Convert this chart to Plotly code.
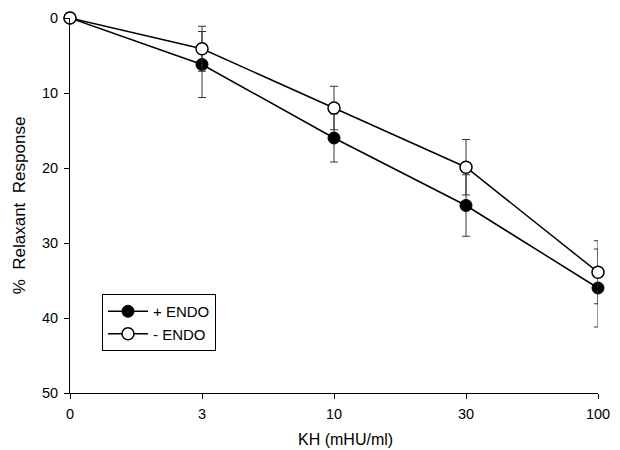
import plotly.graph_objects as go

doses = ["0", "3", "10", "30", "100"]
endo_plus = [0, 6.2, 16.0, 25.0, 36.0]
endo_plus_err = [0, 4.4, 3.2, 4.1, 5.2]
endo_minus = [0, 4.1, 12.0, 19.9, 33.9]
endo_minus_err = [0, 3.0, 2.9, 3.7, 4.2]
y_ticks = [0, 10, 20, 30, 40, 50]

xpos = list(range(len(doses)))

fig = go.Figure()
fig.add_trace(go.Scatter(
    x=xpos, y=endo_plus, name="+ ENDO", mode="lines+markers",
    line=dict(color="black", width=1.5),
    marker=dict(symbol="circle", size=12, color="black", line=dict(color="black", width=1)),
    error_y=dict(type="data", array=endo_plus_err, visible=True, color="#333", thickness=1, width=4),
    cliponaxis=False,
))
fig.add_trace(go.Scatter(
    x=xpos, y=endo_minus, name="- ENDO", mode="lines+markers",
    line=dict(color="black", width=1.5),
    marker=dict(symbol="circle", size=12, color="white", line=dict(color="black", width=1.5)),
    error_y=dict(type="data", array=endo_minus_err, visible=True, color="#333", thickness=1, width=4),
    cliponaxis=False,
))

fig.update_layout(
    width=620, height=450,
    margin=dict(l=70, r=22, t=18, b=57),
    plot_bgcolor="white", paper_bgcolor="white",
    font=dict(family="Liberation Sans, Arial", size=14.5, color="black"),
    showlegend=True,
    legend=dict(
        x=(102 - 70) / 528, y=1 - (294 - 18) / 375, xanchor="left", yanchor="top",
        xref="paper", yref="paper",
        bordercolor="black", borderwidth=1, bgcolor="white",
        font=dict(size=15),
        itemwidth=40, tracegroupgap=0,
    ),
    annotations=[dict(
        text="KH (mHU/ml)", xref="paper", yref="paper",
        x=(345 - 70) / 528, y=-(439 - 393) / 375,
        xanchor="center", yanchor="middle", showarrow=False,
        font=dict(size=16),
    )],
)

fig.update_xaxes(
    range=[0, 4], tickmode="array", tickvals=xpos, ticktext=doses,
    showline=True, linecolor="black", linewidth=1, mirror=False,
    ticks="outside", ticklen=5, tickcolor="black", ticklabelstandoff=3,
    showgrid=False, zeroline=False, automargin=False,
)
fig.update_yaxes(
    range=[50, 0], tickmode="array", tickvals=y_ticks,
    showline=True, linecolor="black", linewidth=1, mirror=False,
    ticks="outside", ticklen=5, tickcolor="black", ticklabelstandoff=3,
    showgrid=False, zeroline=False, automargin=False,
    title=dict(text="%\u00a0\u00a0Relaxant\u00a0\u00a0Response", font=dict(size=17), standoff=12),
)

fig.write_html("out.html")
